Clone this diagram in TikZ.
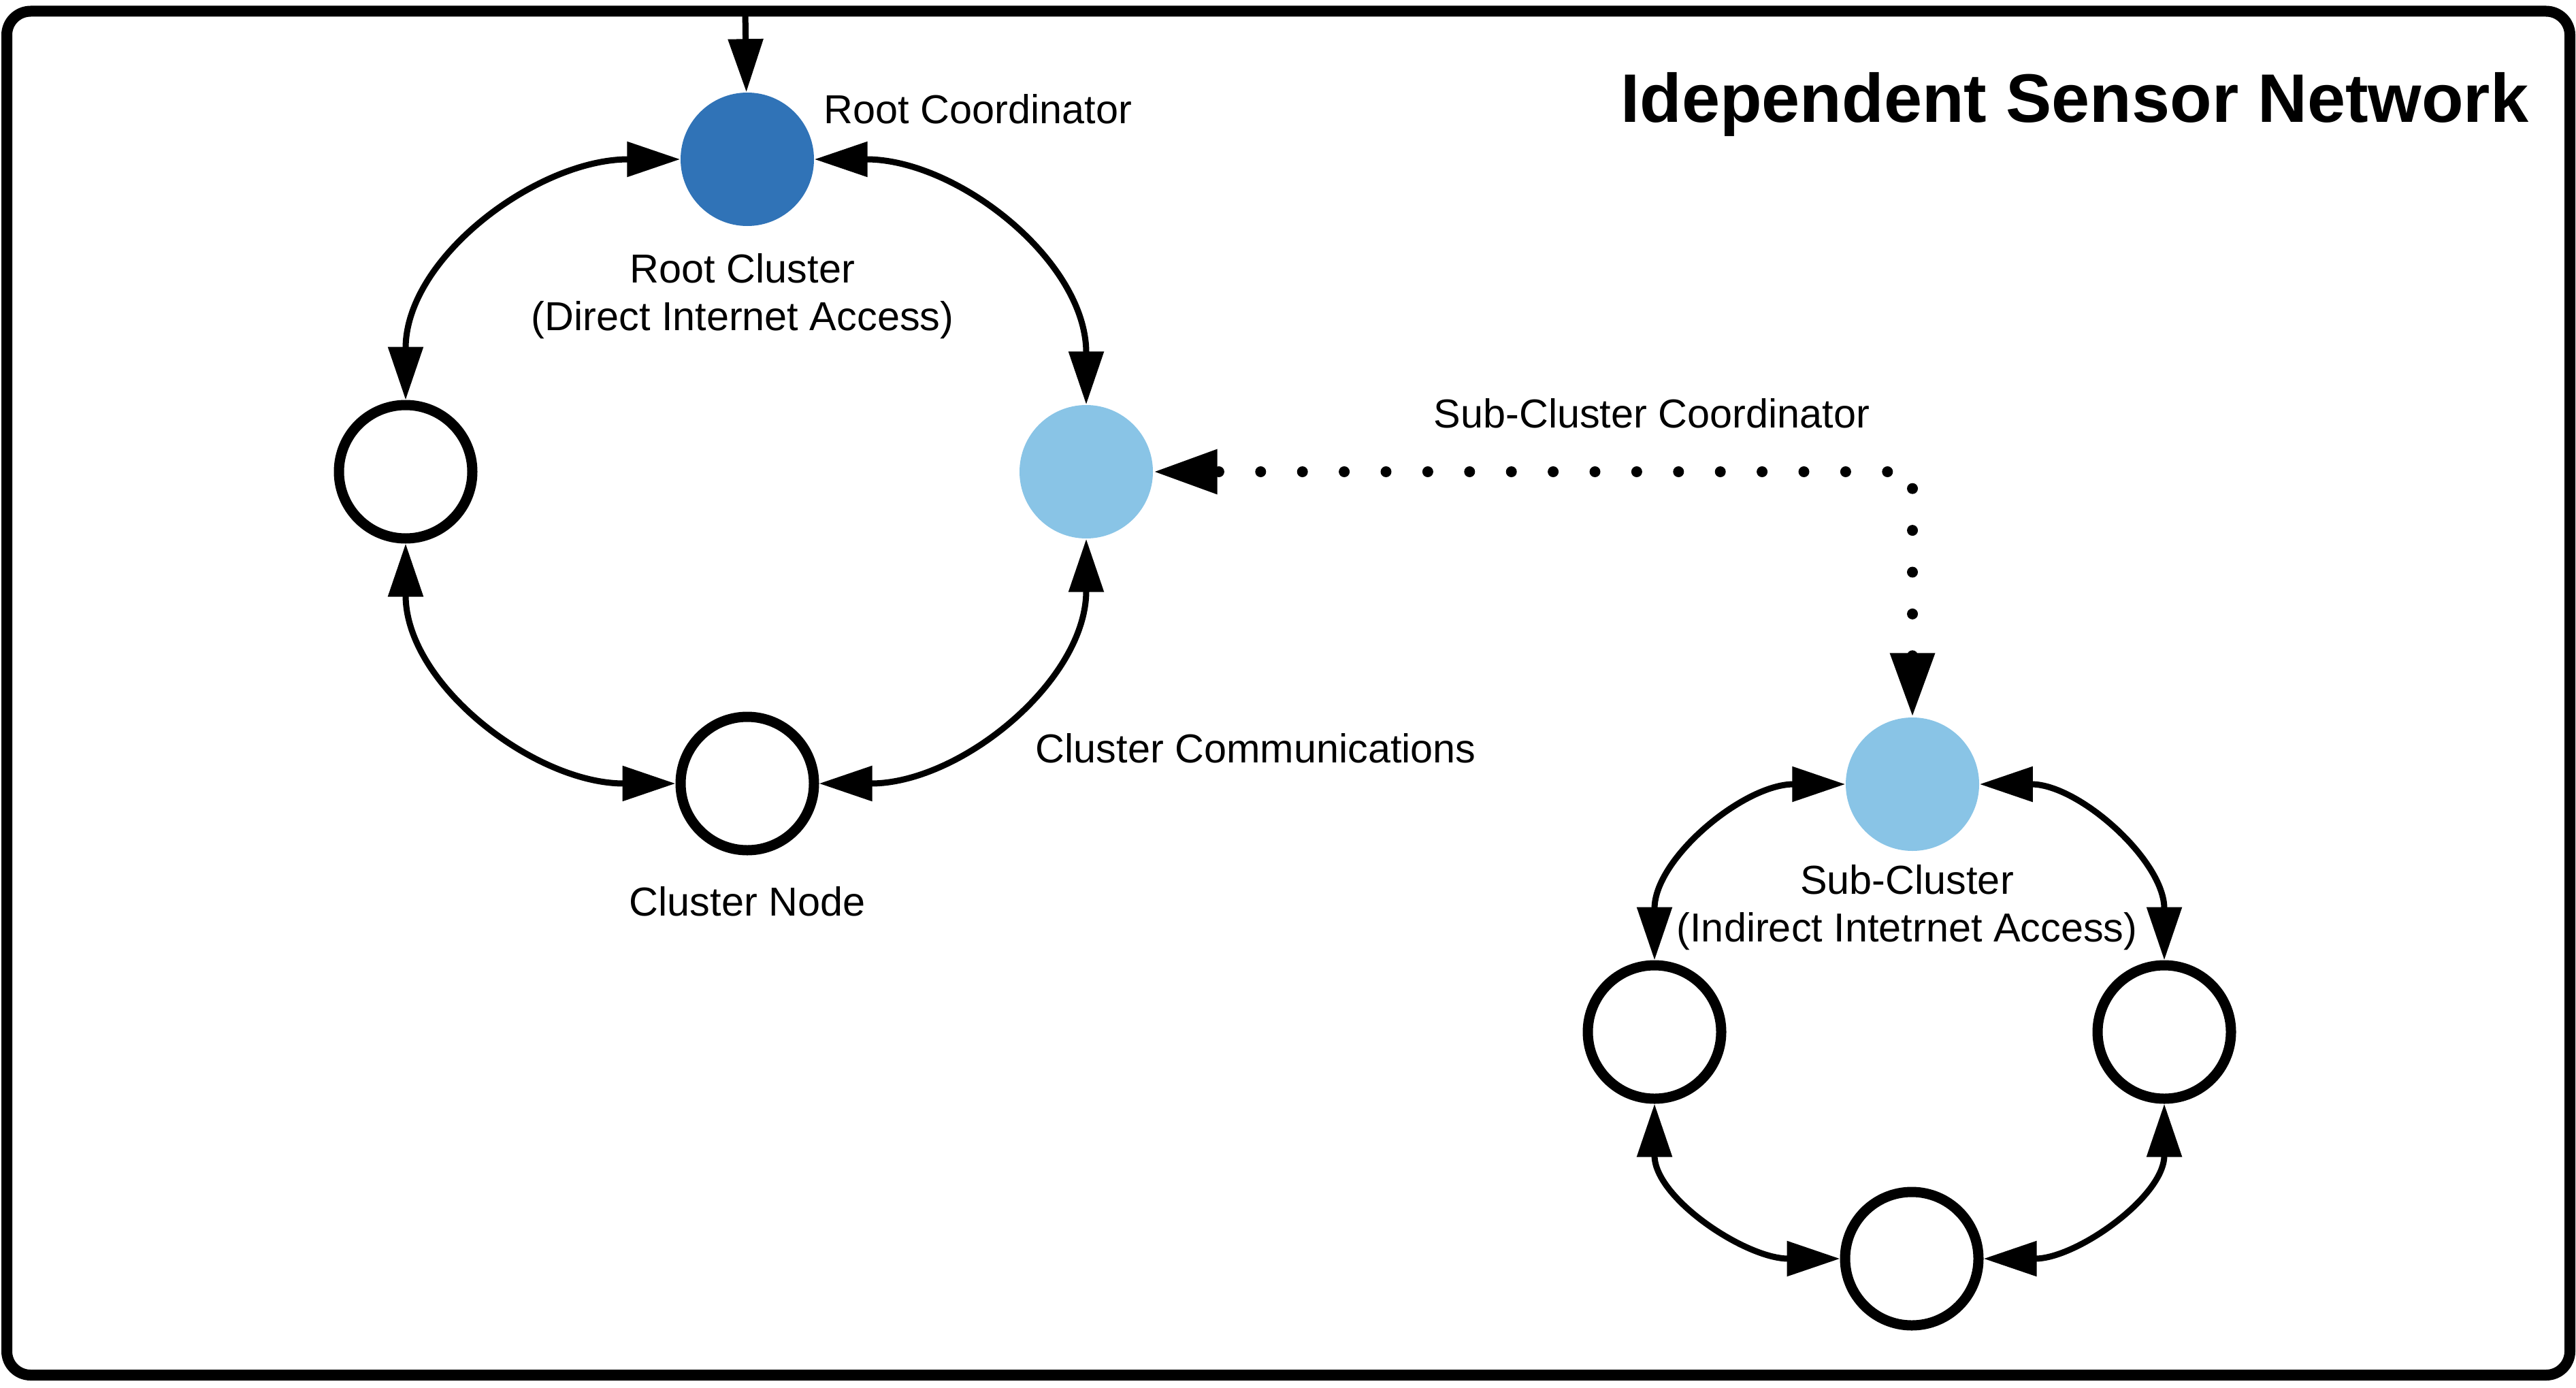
\documentclass[tikz,border=0pt]{standalone}
\usepackage{fontspec}
\setmainfont{Liberation Sans}
\usepackage{tikz}
\usetikzlibrary{arrows.meta,positioning}

\definecolor{rootblue}{RGB}{48,115,183}
\definecolor{subblue}{RGB}{137,196,230}

\begin{document}
\begin{tikzpicture}[
		member/.style={circle,draw,line width=0.15cm,minimum size=1.96cm,inner sep=0pt},
		rootnode/.style={circle,fill=rootblue,minimum size=1.96cm,inner sep=0pt},
		subhead/.style={circle,fill=subblue,minimum size=1.96cm,inner sep=0pt},
		lbl/.style={font=\fontsize{16.9}{19.9}\selectfont,inner sep=0pt},
		link/.style={line width=0.09cm,>={Triangle[length=0.78cm,width=0.5cm]}},
		dotlink/.style={line width=0.16cm,line cap=round,dash pattern=on 0pt off 0.614cm,
			>={Triangle[length=0.94cm,width=0.62cm]}}]
			\useasboundingbox (0,0) rectangle (37.85,-20.38);
			\draw[line width=0.16cm,rounded corners=0.35cm] (0.10,-0.165) rectangle (37.76,-20.20);
			\node[lbl,font=\fontsize{28.7}{34}\selectfont\bfseries,anchor=base east] (title) at (37.16,-1.80) {Idependent Sensor Network};

			\node[rootnode] (root) at (10.98,-2.34) {};
			\node[member] (rleft) at (5.96,-6.93) {};
			\node[subhead] (rright) at (15.96,-6.93) {};
			\node[member] (rbottom) at (10.98,-11.51) {};

			\node[subhead] (shead) at (28.10,-11.52) {};
			\node[member] (sleft) at (24.31,-15.16) {};
			\node[member] (sright) at (31.80,-15.16) {};
			\node[member] (sbottom) at (28.09,-18.49) {};

			\node[lbl,anchor=base west] (rootlbl) at (12.10,-1.82) {Root Coordinator};
			\node[lbl,align=center,anchor=north] (rclbl) at (10.91,-3.72) {Root Cluster\\(Direct Internet Access)};
			\node[lbl,anchor=base west] (sclbl) at (21.06,-6.28) {Sub-Cluster Coordinator};
			\node[lbl,anchor=base west] (commlbl) at (15.21,-11.20) {Cluster Communications};
			\node[lbl,anchor=base] (nodelbl) at (10.98,-13.45) {Cluster Node};
			\node[lbl,align=center,anchor=north] (sublbl) at (28.02,-12.70) {Sub-Cluster\\(Indirect Intetrnet Access)};

			\coordinate (feed) at (10.95,-0.165);
			\draw[link,->] (feed) -- (root);

			\draw[link,<->] (root.west) to[out=180,in=90] (rleft.north);
			\draw[link,<->] (root.east) to[out=0,in=90] (rright.north);
			\draw[link,<->] (rleft.south) to[out=-90,in=180] (rbottom.west);
			\draw[link,<->] (rright.south) to[out=-90,in=0] (rbottom.east);

			\draw[link,<->] (shead.west) to[out=180,in=90] (sleft.north);
			\draw[link,<->] (shead.east) to[out=0,in=90] (sright.north);
			\draw[link,<->] (sleft.south) to[out=-90,in=180] (sbottom.west);
			\draw[link,<->] (sright.south) to[out=-90,in=0] (sbottom.east);

			\draw[dotlink,<->] (shead.north) |- (rright.east);
		\end{tikzpicture}
\end{document}
